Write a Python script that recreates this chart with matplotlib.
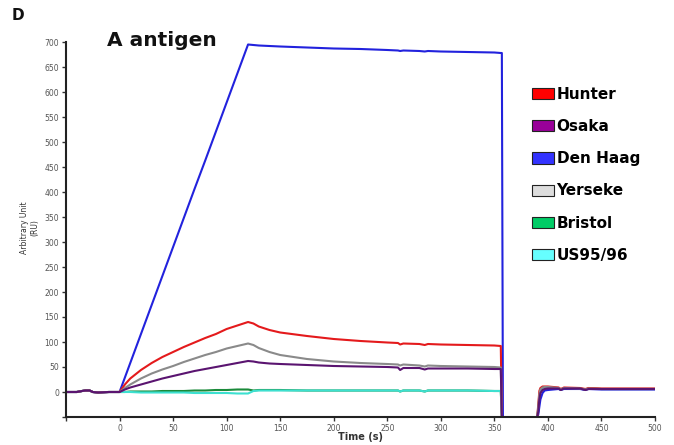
import matplotlib
matplotlib.use("Agg")
import matplotlib.pyplot as plt
from matplotlib.patches import Patch

# ---- data ----
series_names = ["Hunter", "Osaka", "Den Haag", "Yerseke", "Bristol", "US95/96"]
line_colors = ["#e41a1c", "#5a1470", "#2222dd", "#8a8a8a", "#1a8a3a", "#3de0d0"]
patch_colors = ["#ff0000", "#990099", "#3333ff", "#dddddd", "#00cc66", "#66ffff"]

t_main = [-50, -40, -35, -32, -28, -25, -20, -10, 0, 5, 10, 20, 30, 40, 50, 60, 70, 80, 90,
          100, 110, 120, 125, 130, 140, 150, 175, 200, 225, 250, 260, 262, 265, 280, 285,
          288, 300, 325, 350, 356, 357, 358]
t_regen = [390, 391, 392, 393, 395, 397, 400, 405, 410, 412, 415, 430, 435, 438, 450, 475, 500]

base = [0, 0, 2, 3, 3, 0, -1, 0]
hunter_main = base + [0, 15, 27, 44, 58, 70, 80, 90, 99, 108, 116, 126, 133, 140, 137, 131,
                      124, 119, 112, 106, 102, 99, 98, 95, 97, 96, 94, 96, 95, 94, 93, 92, -50, -50]
osaka_main = base + [0, 5, 9, 15, 21, 27, 32, 37, 42, 46, 50, 54, 58, 62, 61, 59,
                     57, 56, 54, 52, 51, 50, 49, 44, 48, 48, 45, 47, 47, 47, 46, 46, -50, -50]
denhaag_main = base + [0, 29, 58, 116, 174, 232, 290, 348, 406, 463, 521, 579, 637, 695, 694, 693,
                       692, 691, 689, 687, 686, 684, 683, 682, 683, 682, 681, 682, 681, 680, 679, 678, 678, -50]
yerseke_main = base + [0, 8, 15, 27, 37, 45, 52, 60, 67, 74, 80, 87, 92, 97, 94, 88,
                       80, 74, 66, 61, 58, 56, 55, 53, 55, 53, 51, 53, 52, 51, 50, 49, -50, -50]
bristol_main = base + [0, 0, 1, 1, 1, 2, 2, 2, 3, 3, 4, 4, 5, 5, 3, 4,
                       4, 4, 3, 3, 3, 3, 3, 1, 3, 3, 1, 3, 3, 3, 2, 2, -50, -50]
us_main = base + [0, 0, 0, -1, -1, -1, -1, -1, -2, -2, -2, -2, -3, -3, 2, 3,
                  3, 3, 3, 3, 3, 3, 3, 1, 3, 3, 1, 3, 3, 3, 2, 2, -50, -50]

hunter_regen = [-50, -25, 2, 8, 11, 11, 11, 10, 9, 6, 9, 8, 6, 8, 7, 7, 7]
osaka_regen = [-50, -40, -15, -2, 4, 6, 7, 7, 7, 4, 7, 7, 4, 6, 6, 6, 6]
denhaag_regen = [-50, -45, -30, -15, -2, 3, 4, 5, 6, 4, 6, 6, 4, 6, 5, 5, 5]
yerseke_regen = [-50, -30, -5, 5, 9, 10, 10, 9, 8, 5, 8, 7, 5, 7, 6, 6, 6]
bristol_regen = [-50, -35, -10, 0, 5, 7, 8, 8, 7, 5, 7, 7, 5, 7, 6, 6, 6]
us_regen = [-50, -35, -10, 0, 5, 7, 8, 8, 7, 5, 7, 7, 5, 7, 6, 6, 6]

x_ticks = [-50, 0, 50, 100, 150, 200, 250, 300, 350, 400, 450, 500]
x_tick_labels = ["", "0", "50", "100", "150", "200", "250", "300", "350", "400", "450", "500"]
y_ticks = [-50, 0, 50, 100, 150, 200, 250, 300, 350, 400, 450, 500, 550, 600, 650, 700]
y_tick_labels = [""] + [str(v) for v in y_ticks[1:]]

main_vals = [hunter_main, osaka_main, denhaag_main, yerseke_main, bristol_main, us_main]
regen_vals = [hunter_regen, osaka_regen, denhaag_regen, yerseke_regen, bristol_regen, us_regen]

# ---- figure ----
fig = plt.figure(figsize=(6.74, 4.45), dpi=100)
ax = fig.add_axes([66 / 674, 1 - 417 / 445, (655 - 66) / 674, (417 - 42) / 445])

draw_order = [4, 5, 2, 0, 3, 1]
for i in draw_order:
    ax.plot(t_main, main_vals[i], color=line_colors[i], lw=1.5, zorder=2)
    ax.plot(t_regen, regen_vals[i], color=line_colors[i], lw=1.5, zorder=2)

ax.set_xlim(-50, 500)
ax.set_ylim(-50, 700)
ax.set_xticks(x_ticks)
ax.set_xticklabels(x_tick_labels)
ax.set_yticks(y_ticks)
ax.set_yticklabels(y_tick_labels)
ax.tick_params(labelsize=5.5, labelcolor="#555555", length=3, width=1, color="#333333", pad=2)
for s in ["top", "right"]:
    ax.spines[s].set_visible(False)
for s in ["left", "bottom"]:
    ax.spines[s].set_linewidth(1.5)
    ax.spines[s].set_color("#222222")

ax.set_xlabel("Time (s)", fontsize=7, fontweight="bold", color="#333333", labelpad=-1)
fig.text(30 / 674, 1 - 228 / 445, "Arbitrary Unit\n(RU)", rotation=90, fontsize=5.5,
         ha="center", va="center", color="#333333")

fig.text(107 / 674, 1 - 40 / 445, "A antigen", fontsize=14.5, fontweight="bold",
         ha="left", va="center", color="#111111")
fig.text(12 / 674, 1 - 15 / 445, "D", fontsize=11, fontweight="bold",
         ha="left", va="center", color="#111111")

handles = [Patch(facecolor=patch_colors[i], edgecolor="#222222", linewidth=0.8)
           for i in range(len(series_names))]
fig.legend(handles, series_names, loc="upper left",
           bbox_to_anchor=(526 / 674, 1 - 81 / 445), frameon=False,
           prop={"weight": "bold", "size": 11}, handlelength=1.45, handleheight=0.75,
           handletextpad=0.15, labelspacing=1.12, borderaxespad=0)

fig.savefig("out.png", dpi=100)
